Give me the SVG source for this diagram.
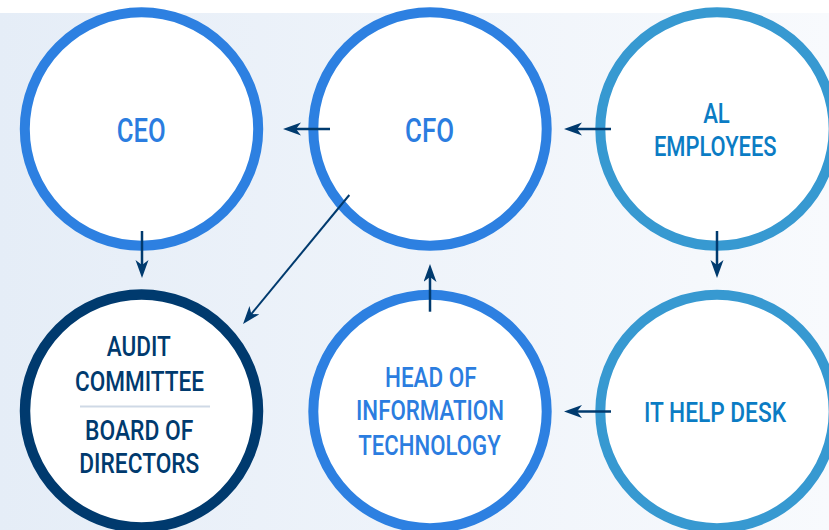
<svg xmlns="http://www.w3.org/2000/svg" width="829" height="530" viewBox="0 0 829 530">
  <defs>
    <linearGradient id="bg" x1="0" y1="0" x2="1" y2="0">
      <stop offset="0" stop-color="#e5edf7"/>
      <stop offset="1" stop-color="#f8fafd"/>
    </linearGradient>
    <marker id="arrow" markerUnits="userSpaceOnUse" markerWidth="20" markerHeight="14" refX="8" refY="6.5" orient="auto">
      <path d="M0,0 L18,6.5 L0,13 L5,6.5 Z" fill="#003a6e"/>
    </marker>
  </defs>
  <style>
    .ring { fill: #ffffff; stroke-width: 10; }
    .blue { stroke: #2d80e1; }
    .sky { stroke: #3799d1; }
    .navy { stroke: #003a6e; stroke-width: 10.5; }
    text { font-family: Roboto, "Liberation Sans", sans-serif; font-weight: 500; text-anchor: middle; }
    .t-blue { fill: #2b7de0; font-size: 27.5px; }
    .t-big { fill: #2b7de0; font-size: 33px; }
    .t-sky { fill: #0b7cc4; font-size: 27.5px; }
    .t-navy { fill: #003a6e; font-size: 27.5px; }
    .link { stroke: #003a6e; stroke-width: 2.5; fill: none; marker-end: url(#arrow); }
  </style>

  <!-- backdrop -->
  <rect x="0" y="0" width="829" height="530" fill="#ffffff"/>
  <rect x="0" y="13" width="829" height="517" fill="url(#bg)"/>

  <g id="ceo">
    <circle class="ring blue" cx="141.5" cy="129" r="116.7"/>
    <text class="t-big" x="141.3" y="142.3" textLength="49" lengthAdjust="spacingAndGlyphs">CEO</text>
  </g>

  <g id="cfo">
    <circle class="ring blue" cx="430" cy="129" r="116.7"/>
    <text class="t-big" x="429.5" y="142.3" textLength="49" lengthAdjust="spacingAndGlyphs">CFO</text>
  </g>

  <g id="all-employees">
    <circle class="ring sky" cx="717" cy="129" r="116.7"/>
    <text class="t-sky" x="716.5" y="123.3" textLength="26.7" lengthAdjust="spacingAndGlyphs">AL</text>
    <text class="t-sky" x="715.3" y="156.3" textLength="122.7" lengthAdjust="spacingAndGlyphs">EMPLOYEES</text>
  </g>

  <g id="audit-board">
    <circle class="ring navy" cx="141.5" cy="411" r="116.5"/>
    <text class="t-navy" x="138.7" y="356" textLength="64" lengthAdjust="spacingAndGlyphs">AUDIT</text>
    <text class="t-navy" x="139.5" y="391" textLength="129" lengthAdjust="spacingAndGlyphs">COMMITTEE</text>
    <line x1="80" y1="406.5" x2="210" y2="406.5" stroke="#cfd9e6" stroke-width="2"/>
    <text class="t-navy" x="139.2" y="439.5" textLength="108.3" lengthAdjust="spacingAndGlyphs">BOARD OF</text>
    <text class="t-navy" x="139.3" y="473" textLength="120" lengthAdjust="spacingAndGlyphs">DIRECTORS</text>
  </g>

  <g id="head-of-it">
    <circle class="ring blue" cx="430" cy="411.5" r="116.7"/>
    <text class="t-blue" x="430.8" y="386.7" textLength="91.7" lengthAdjust="spacingAndGlyphs">HEAD OF</text>
    <text class="t-blue" x="430" y="420" textLength="148" lengthAdjust="spacingAndGlyphs">INFORMATION</text>
    <text class="t-blue" x="429.5" y="455" textLength="142.4" lengthAdjust="spacingAndGlyphs">TECHNOLOGY</text>
  </g>

  <g id="it-help-desk">
    <circle class="ring sky" cx="717" cy="411.5" r="116.7"/>
    <text class="t-sky" x="715" y="421.7" textLength="142" lengthAdjust="spacingAndGlyphs">IT HELP DESK</text>
  </g>

  <g id="connectors">
    <line class="link" x1="330" y1="129" x2="293" y2="129"/>
    <line class="link" x1="611" y1="129" x2="574" y2="129"/>
    <line class="link" x1="142" y1="231" x2="142" y2="268"/>
    <line class="link" x1="717" y1="231" x2="717" y2="268"/>
    <line class="link" x1="611" y1="411.5" x2="574" y2="411.5"/>
    <line class="link" x1="430" y1="311.7" x2="430" y2="274"/>
    <line class="link" x1="349.3" y1="195" x2="249.4" y2="316.3" style="stroke-width:2"/>
  </g>
</svg>
